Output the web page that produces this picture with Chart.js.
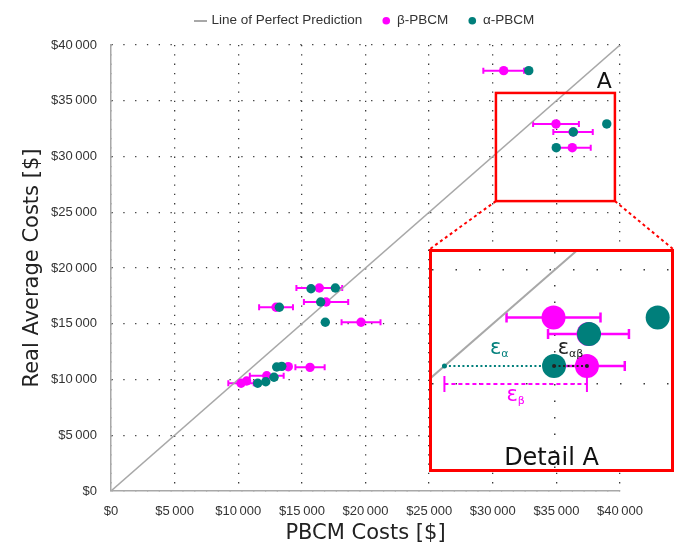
<!DOCTYPE html>
<html>
<head>
<meta charset="utf-8">
<script src="https://cdn.jsdelivr.net/npm/chart.js@4.4.0/dist/chart.umd.min.js"></script>
<style>
  body { margin: 0; background: #fff; }
  #wrap { position: relative; width: 676px; height: 546px; }
  #main { display: block; }
  #inset { position: absolute; left: 429px; top: 249px; width: 245px; height: 223px;
           box-sizing: border-box; border: 3px solid #ff0000; background: #fff; }
  #detail { display: block; }
</style>
</head>
<body>
<div id="wrap">
  <canvas id="main" width="676" height="546"></canvas>
  <div id="inset"><canvas id="detail" width="239" height="217"></canvas></div>
</div>
<script>
// data

const tickValues = [0, 5000, 10000, 15000, 20000, 25000, 30000, 35000, 40000];
const tickLabels = ['$0', '$5\u2009000', '$10\u2009000', '$15\u2009000', '$20\u2009000',
                    '$25\u2009000', '$30\u2009000', '$35\u2009000', '$40\u2009000'];

const betaX   = [30860, 34970, 36310, 36250, 16370, 12970, 16900, 19650, 15640, 13930, 12240, 10660, 10220];
const betaY   = [37700, 32920, 32200, 30790, 18210, 16480, 16950, 15130, 11090, 11150, 10340, 9870, 9660];
const betaErr = [1600, 1800, 1550, 1450, 1800, 1330, 1740, 1530, 1150, 0, 1330, 0, 1000];

const alphaX = [32830, 38960, 36330, 34990, 15720, 17630, 13230, 16480, 16840, 13020, 13420, 12810, 12160, 11530];
const alphaY = [37700, 32920, 32200, 30790, 18140, 18210, 16480, 16950, 15130, 11120, 11180, 10200, 9800, 9660];

const perfectX = [0, 40000];
const perfectY = [0, 40000];

// region "A" and its magnified view
const boxAX = [30250, 39600];
const boxAY = [26000, 35700];
const detailX = [30314, 39471];
const detailY = [26262, 35800];
const detailGridX = [35000];
const detailGridY = [30000, 35000];
const detailPair = 3;      // project used for the epsilon explanation
const epsBetaY = 30000;

const PINK = '#ff00ff';
const TEAL = '#007f7b';
const GREY = '#a8a8a8';

// helpers

const pts = (xs, ys) => xs.map((v, i) => ({ x: v, y: ys[i] }));

function lineSample() {
  const c = document.createElement('canvas');
  c.width = 13; c.height = 2;
  const g = c.getContext('2d');
  g.fillStyle = GREY;
  g.fillRect(0, 0, 13, 2);
  return c;
}

const errorBars = {
  id: 'errorBars',
  beforeDatasetsDraw(chart, args, opts) {
    const { ctx, chartArea: a, scales: { x, y } } = chart;
    ctx.save();
    ctx.beginPath();
    ctx.rect(a.left, a.top, a.right - a.left, a.bottom - a.top);
    ctx.clip();
    ctx.strokeStyle = PINK;
    ctx.lineWidth = opts.width;
    betaX.forEach((v, i) => {
      const e = betaErr[i];
      if (!e) return;
      const py = y.getPixelForValue(betaY[i]);
      const x0 = x.getPixelForValue(v - e);
      const x1 = x.getPixelForValue(v + e);
      ctx.beginPath();
      ctx.moveTo(x0, py); ctx.lineTo(x1, py);
      ctx.moveTo(x0, py - opts.cap); ctx.lineTo(x0, py + opts.cap);
      ctx.moveTo(x1, py - opts.cap); ctx.lineTo(x1, py + opts.cap);
      ctx.stroke();
    });
    ctx.restore();
  }
};

// main chart: box A, label and connectors to the detail view
const boxA = {
  id: 'boxA',
  afterDatasetsDraw(chart) {
    const { ctx, scales: { x, y } } = chart;
    const l = x.getPixelForValue(boxAX[0]), r = x.getPixelForValue(boxAX[1]);
    const t = y.getPixelForValue(boxAY[1]), b = y.getPixelForValue(boxAY[0]);
    const inset = document.getElementById('inset');
    ctx.save();
    ctx.strokeStyle = '#ff0000';
    ctx.lineWidth = 2.5;
    ctx.strokeRect(l, t, r - l, b - t);
    ctx.setLineDash([3, 3]);
    ctx.lineWidth = 2;
    ctx.beginPath();
    ctx.moveTo(l, b); ctx.lineTo(inset.offsetLeft + 1, inset.offsetTop);
    ctx.moveTo(r, b); ctx.lineTo(inset.offsetLeft + inset.offsetWidth - 1, inset.offsetTop);
    ctx.stroke();
    ctx.setLineDash([]);
    ctx.fillStyle = '#111';
    ctx.font = '22px "DejaVu Sans"';
    ctx.textAlign = 'right';
    ctx.textBaseline = 'alphabetic';
    ctx.fillText('A', r - 3, t - 5);
    ctx.restore();
  }
};

// legend band height so the plot starts where it does in the picture
const legendBand = {
  id: 'legendBand',
  beforeLayout(chart) {
    const lg = chart.legend;
    if (lg && !lg._banded) {
      const fit = lg.fit;
      lg.fit = function () { fit.call(this); this.height = 51; };
      lg._banded = true;
    }
  }
};

// init main chart

const mainChart = new Chart(document.getElementById('main'), {
  type: 'scatter',
  data: {
    datasets: [
      {
        label: 'Line of Perfect Prediction',
        type: 'line',
        showLine: true,
        data: pts(perfectX, perfectY),
        borderColor: GREY,
        borderWidth: 1.5,
        pointRadius: 0,
        pointStyle: lineSample(),
        order: 2
      },
      {
        label: 'β-PBCM',
        data: pts(betaX, betaY),
        backgroundColor: PINK,
        borderColor: PINK,
        borderWidth: 0,
        pointRadius: 4.7,
        order: 1
      },
      {
        label: 'α-PBCM',
        data: pts(alphaX, alphaY),
        backgroundColor: TEAL,
        borderColor: TEAL,
        borderWidth: 0,
        pointRadius: 4.7,
        order: 0
      }
    ]
  },
  options: {
    responsive: false,
    animation: false,
    events: [],
    layout: { autoPadding: false, padding: { left: 16, right: 56, top: -6, bottom: 0 } },
    plugins: {
      tooltip: { enabled: false },
      errorBars: { width: 2, cap: 3 },
      legend: {
        position: 'top',
        fullSize: false,
        labels: {
          usePointStyle: true,
          boxWidth: 8,
          boxHeight: 5.4,
          padding: 20,
          color: '#333',
          font: { family: '"Liberation Sans", Arial, sans-serif', size: 13.5 },
          sort: (a, b) => a.datasetIndex - b.datasetIndex
        }
      }
    },
    scales: {
      x: {
        type: 'linear',
        min: 0,
        max: 40000,
        afterBuildTicks: s => { s.ticks = tickValues.map(v => ({ value: v })); },
        afterFit: s => { s.height = 55; },
        ticks: {
          padding: 13,
          color: '#333',
          font: { family: '"Liberation Sans", Arial, sans-serif', size: 13 },
          maxRotation: 0,
          callback: v => tickLabels[tickValues.indexOf(v)]
        },
        grid: { color: '#3a3a3a', lineWidth: 1.3, drawTicks: false },
        border: { color: GREY, width: 1.5, dash: [1.3, 8] },
        title: {
          display: true,
          text: 'PBCM Costs [$]',
          color: '#222',
          padding: 0,
          font: { family: '"DejaVu Sans"', size: 21 }
        }
      },
      y: {
        type: 'linear',
        min: 0,
        max: 40000,
        afterBuildTicks: s => { s.ticks = tickValues.map(v => ({ value: v })); },
        afterFit: s => { s.width = 95; },
        ticks: {
          padding: 14,
          color: '#333',
          font: { family: '"Liberation Sans", Arial, sans-serif', size: 13 },
          callback: v => tickLabels[tickValues.indexOf(v)]
        },
        grid: { color: '#3a3a3a', lineWidth: 1.3, drawTicks: false },
        border: { color: GREY, width: 1.5, dash: [1.3, 10.5] },
        title: {
          display: true,
          text: 'Real Average Costs [$]',
          color: '#222',
          font: { family: '"DejaVu Sans"', size: 21 }
        }
      }
    }
  },
  plugins: [errorBars, boxA, legendBand]
});

// detail view annotations

function epsLabel(ctx, sub, cx, baseline, color) {
  ctx.font = '21px "DejaVu Sans"';
  const w1 = ctx.measureText('ε').width;
  ctx.font = '11px "DejaVu Sans"';
  const w2 = ctx.measureText(sub).width;
  const left = cx - (w1 + w2) / 2;
  ctx.fillStyle = color;
  ctx.textAlign = 'left';
  ctx.textBaseline = 'alphabetic';
  ctx.font = '21px "DejaVu Sans"';
  ctx.fillText('ε', left, baseline);
  ctx.font = '11px "DejaVu Sans"';
  ctx.fillText(sub, left + w1, baseline + 3);
}

function dot(ctx, x, y, r, color) {
  ctx.fillStyle = color;
  ctx.beginPath();
  ctx.arc(x, y, r, 0, Math.PI * 2);
  ctx.fill();
}

const detailNotes = {
  id: 'detailNotes',
  afterDatasetsDraw(chart) {
    const { ctx, chartArea: a, scales: { x, y } } = chart;
    const yA = y.getPixelForValue(alphaY[detailPair]);
    const xP = x.getPixelForValue(alphaY[detailPair]);   // perfect prediction at that real cost
    const xA = x.getPixelForValue(alphaX[detailPair]);
    const xB = x.getPixelForValue(betaX[detailPair]);
    const yE = y.getPixelForValue(epsBetaY);
    ctx.save();
    ctx.lineWidth = 2;
    ctx.setLineDash([2, 2.5]);
    ctx.strokeStyle = TEAL;
    ctx.beginPath(); ctx.moveTo(xP, yA); ctx.lineTo(xA, yA); ctx.stroke();
    ctx.strokeStyle = '#222';
    ctx.beginPath(); ctx.moveTo(xA, yA); ctx.lineTo(xB, yA); ctx.stroke();
    ctx.setLineDash([4, 3]);
    ctx.strokeStyle = PINK;
    ctx.beginPath(); ctx.moveTo(xP, yE); ctx.lineTo(xB, yE); ctx.stroke();
    ctx.setLineDash([]);
    ctx.beginPath();
    ctx.moveTo(xP, yE - 8); ctx.lineTo(xP, yE + 8);
    ctx.moveTo(xB, yE - 8); ctx.lineTo(xB, yE + 8);
    ctx.stroke();
    dot(ctx, xP, yA, 2.5, TEAL);
    dot(ctx, xA, yA, 2, '#222');
    dot(ctx, xB, yA, 2, '#222');
    epsLabel(ctx, 'α', (xP + xA) / 2, yA - 12, TEAL);
    epsLabel(ctx, 'αβ', (xA + xB) / 2, yA - 12, '#222');
    epsLabel(ctx, 'β', (xP + xB) / 2, yE + 17, PINK);
    ctx.fillStyle = '#111';
    ctx.font = '24px "DejaVu Sans"';
    ctx.textAlign = 'center';
    ctx.fillText('Detail A', (a.left + a.right) / 2, a.bottom - 4);
    ctx.restore();
  }
};

const detailChart = new Chart(document.getElementById('detail'), {
  type: 'scatter',
  data: {
    datasets: [
      {
        type: 'line',
        showLine: true,
        data: pts(perfectX, perfectY),
        borderColor: GREY,
        borderWidth: 2,
        pointRadius: 0,
        order: 2
      },
      {
        data: pts(betaX, betaY),
        backgroundColor: PINK,
        borderWidth: 0,
        pointRadius: 12,
        order: 1
      },
      {
        data: pts(alphaX, alphaY),
        backgroundColor: TEAL,
        borderWidth: 0,
        pointRadius: 12,
        order: 0
      }
    ]
  },
  options: {
    responsive: false,
    animation: false,
    events: [],
    layout: { autoPadding: false, padding: 0 },
    plugins: {
      legend: { display: false },
      tooltip: { enabled: false },
      errorBars: { width: 2.5, cap: 5 }
    },
    scales: {
      x: {
        type: 'linear',
        min: detailX[0],
        max: detailX[1],
        afterBuildTicks: s => { s.ticks = detailGridX.map(v => ({ value: v })); },
        afterFit: s => { s.height = 0; },
        ticks: { display: false },
        grid: { color: '#3a3a3a', lineWidth: 1.5, drawTicks: false },
        border: { display: false, dash: [1.5, 15] }
      },
      y: {
        type: 'linear',
        min: detailY[0],
        max: detailY[1],
        afterBuildTicks: s => { s.ticks = detailGridY.map(v => ({ value: v })); },
        afterFit: s => { s.width = 0; },
        ticks: { display: false },
        grid: { color: '#3a3a3a', lineWidth: 1.5, drawTicks: false },
        border: { display: false, dash: [1.5, 22] }
      }
    }
  },
  plugins: [errorBars, detailNotes]
});
</script>
</body>
</html>
